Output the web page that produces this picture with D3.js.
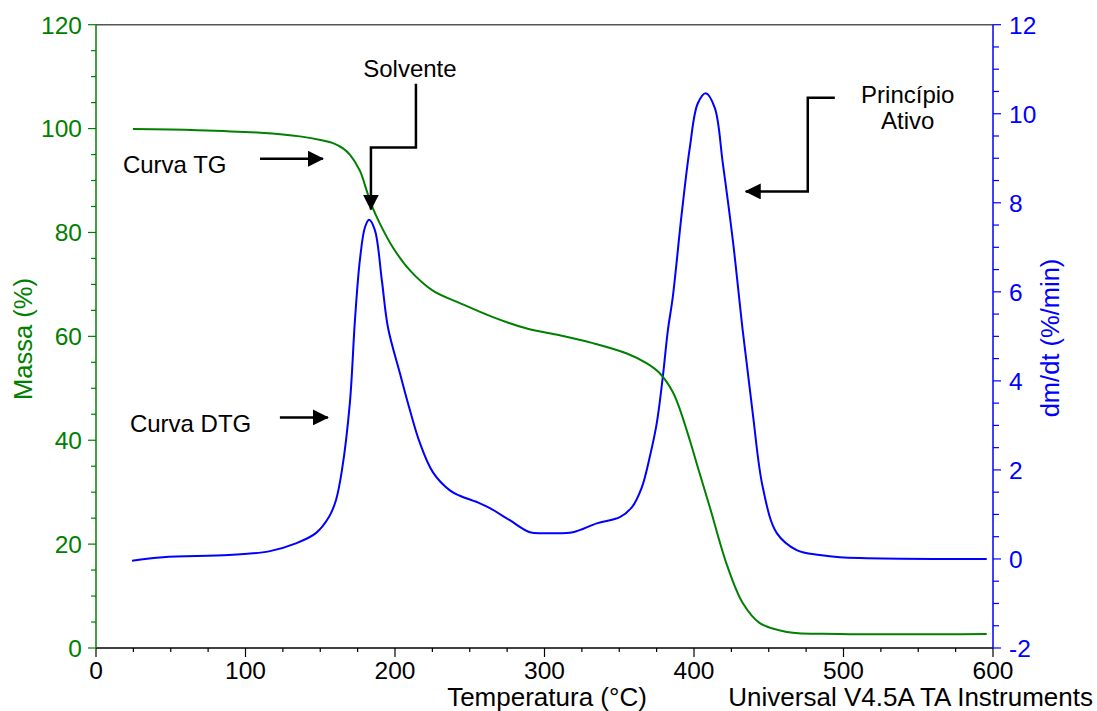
<!DOCTYPE html>
<html>
<head>
<meta charset="utf-8">
<script src="https://cdn.jsdelivr.net/npm/d3@7"></script>
<style>
  body { margin: 0; background: #fff; }
  svg text { font-family: "Liberation Sans", Arial, sans-serif; }
</style>
</head>
<body>
<div class="chart"></div>
<script>
// TG curve: temperature (°C) vs mass (%)
const tgTemp = [24.7, 67.5, 110, 136.4, 151.8, 158.5, 165.2, 169.8, 176.5, 181.0, 184.4, 189.9, 198.6, 210.0, 225.3, 243.4, 265.5, 288.2, 310.3, 332.3, 355.1, 368.5, 377.1, 385.8, 390.5, 397.2, 403.9, 410.6, 422.0, 432.6, 444.0, 462.1, 497.5, 595.8];
const tgMass = [99.9, 99.7, 99.2, 98.5, 97.7, 97.2, 96.2, 95.0, 91.9, 88.1, 85.2, 81.7, 77.1, 72.7, 68.8, 66.4, 63.7, 61.5, 60.2, 58.7, 56.7, 54.8, 52.9, 49.3, 46.0, 40.0, 33.5, 27.1, 16.0, 8.65, 4.8, 3.1, 2.7, 2.7];

// DTG curve: temperature (°C) vs dm/dt (%/min)
const dtgTemp = [24.1, 44.8, 88.9, 115.7, 133.7, 147.1, 155.8, 160.5, 164.5, 169.8, 173.2, 176.5, 179.9, 182.7, 186.6, 191.2, 195.3, 203.3, 210.0, 216.7, 225.3, 236.7, 243.4, 256.8, 263.5, 276.8, 290.2, 301.6, 319.0, 335.0, 350.4, 358.4, 365.1, 370.4, 375.1, 379.1, 382.5, 385.8, 391.8, 397.2, 402.5, 407.9, 413.9, 419.3, 426.0, 432.6, 439.3, 446.0, 455.4, 468.7, 484.1, 497.5, 595.8];
const dtgRate = [-0.04, 0.04, 0.09, 0.17, 0.35, 0.58, 0.94, 1.32, 1.99, 3.50, 5.36, 6.71, 7.45, 7.62, 7.38, 6.26, 5.20, 4.17, 3.34, 2.60, 1.95, 1.54, 1.42, 1.25, 1.14, 0.87, 0.60, 0.58, 0.60, 0.80, 0.94, 1.16, 1.61, 2.29, 3.05, 4.08, 5.13, 5.88, 7.76, 9.24, 10.23, 10.46, 10.13, 8.88, 7.15, 5.13, 3.27, 1.61, 0.58, 0.20, 0.09, 0.04, 0.0];

// ticks
const xTicks = [0, 100, 200, 300, 400, 500, 600];
const yLeftTicks = [0, 20, 40, 60, 80, 100, 120];
const yRightTicks = [-2, 0, 2, 4, 6, 8, 10, 12];

// annotations in data units (temperature, mass %)
const labels = [
  {text: "Curva TG", t: 18, m: 91.5, anchor: "start"},
  {text: "Curva DTG", t: 22.7, m: 41.5, anchor: "start"},
  {text: "Solvente", t: 210, m: 110, anchor: "middle"},
  {text: "Princípio", t: 543, m: 105, anchor: "middle"},
  {text: "Ativo", t: 543, m: 100, anchor: "middle"}
];
const arrows = [
  [[109.7, 94.2], [151.8, 94.2]],
  [[123, 44.4], [155.1, 44.4]],
  [[214, 108.65], [214, 96.35], [183.9, 96.35], [183.9, 84.4]],
  [[494.2, 105.96], [476.1, 105.96], [476.1, 87.9], [434.6, 87.9]]
];

const W = 1097, H = 711;
const margin = {top: 24.7, right: 104, bottom: 63, left: 96};
const width = W - margin.left - margin.right;
const height = H - margin.top - margin.bottom;
const green = "#008000", blue = "#0000ff";

const svg = d3.select(".chart").append("svg")
  .attr("width", W).attr("height", H);

const g = svg.append("g")
  .attr("transform", `translate(${margin.left},${margin.top})`);

const x = d3.scaleLinear().domain([0, 600]).range([0, width]);
const yL = d3.scaleLinear().domain([0, 120]).range([height, 0]);
const yR = d3.scaleLinear().domain([-2, 12]).range([height, 0]);

// top frame line
g.append("line")
  .attr("x1", 0).attr("x2", width).attr("y1", 0).attr("y2", 0)
  .attr("stroke", "#555").attr("stroke-width", 1.5);

// minor ticks
const minor = (sel, vals, fn) => sel.selectAll("line.m").data(vals).enter().append("line").each(fn);

// bottom axis
const xAxis = g.append("g").attr("transform", `translate(0,${height})`);
xAxis.append("line").attr("x1", 0).attr("x2", width).attr("stroke", "#000").attr("stroke-width", 1.5);
minor(xAxis, d3.range(0, 601, 25), function(d) {
  d3.select(this).attr("x1", x(d)).attr("x2", x(d)).attr("y1", 0)
    .attr("y2", d % 100 === 0 ? 9 : 4).attr("stroke", "#000").attr("stroke-width", 1.2);
});
xAxis.selectAll("text").data(xTicks).enter().append("text")
  .attr("x", d => x(d)).attr("y", 31)
  .attr("text-anchor", "middle").attr("font-size", 24.5).attr("fill", "#000")
  .text(d => d);

// left axis
const yAxisL = g.append("g");
yAxisL.append("line").attr("y1", 0).attr("y2", height).attr("stroke", green).attr("stroke-width", 1.5);
minor(yAxisL, d3.range(0, 121, 5), function(d) {
  d3.select(this).attr("y1", yL(d)).attr("y2", yL(d)).attr("x1", 0)
    .attr("x2", d % 20 === 0 ? -8 : -5).attr("stroke", green).attr("stroke-width", 1.2);
});
yAxisL.selectAll("text").data(yLeftTicks).enter().append("text")
  .attr("x", -14).attr("y", d => yL(d)).attr("dy", "0.36em")
  .attr("text-anchor", "end").attr("font-size", 24.5).attr("fill", green)
  .text(d => d);

// right axis
const yAxisR = g.append("g").attr("transform", `translate(${width},0)`);
yAxisR.append("line").attr("y1", 0).attr("y2", height).attr("stroke", blue).attr("stroke-width", 1.5);
minor(yAxisR, d3.range(-2, 12.01, 0.5), function(d) {
  d3.select(this).attr("y1", yR(d)).attr("y2", yR(d)).attr("x1", 0)
    .attr("x2", Math.abs(d % 2) < 1e-9 ? 8 : 6).attr("stroke", blue).attr("stroke-width", 1.2);
});
yAxisR.selectAll("text").data(yRightTicks).enter().append("text")
  .attr("x", 16).attr("y", d => yR(d)).attr("dy", "0.36em")
  .attr("text-anchor", "start").attr("font-size", 24.5).attr("fill", blue)
  .text(d => d);

// axis titles
svg.append("text").attr("transform", "translate(32,339) rotate(-90)")
  .attr("text-anchor", "middle").attr("font-size", 25.5).attr("fill", green).text("Massa (%)");
svg.append("text").attr("transform", "translate(1059,338) rotate(-90)")
  .attr("text-anchor", "middle").attr("font-size", 25.5).attr("fill", blue).text("dm/dt (%/min)");
svg.append("text").attr("x", 547).attr("y", 706)
  .attr("text-anchor", "middle").attr("font-size", 26).attr("fill", "#000").text("Temperatura (°C)");
svg.append("text").attr("x", 1093).attr("y", 706)
  .attr("text-anchor", "end").attr("font-size", 26).attr("fill", "#000").text("Universal V4.5A TA Instruments");

// curves
const tg = tgTemp.map((t, i) => ({t, v: tgMass[i]}));
const dtg = dtgTemp.map((t, i) => ({t, v: dtgRate[i]}));

g.append("path").datum(dtg)
  .attr("fill", "none").attr("stroke", blue).attr("stroke-width", 2)
  .attr("d", d3.line().x(d => x(d.t)).y(d => yR(d.v)).curve(d3.curveCatmullRom.alpha(0.5)));

g.append("path").datum(tg)
  .attr("fill", "none").attr("stroke", green).attr("stroke-width", 2)
  .attr("d", d3.line().x(d => x(d.t)).y(d => yL(d.v)).curve(d3.curveCatmullRom.alpha(0.5)));

// annotations
svg.append("defs").append("marker")
  .attr("id", "head").attr("markerUnits", "userSpaceOnUse")
  .attr("viewBox", "0 0 16 16").attr("refX", 15).attr("refY", 8)
  .attr("markerWidth", 16).attr("markerHeight", 16).attr("orient", "auto")
  .append("path").attr("d", "M0,0L16,8L0,16Z").attr("fill", "#000");

g.selectAll("path.arrow").data(arrows).enter().append("path")
  .attr("class", "arrow").attr("fill", "none").attr("stroke", "#000").attr("stroke-width", 2.5)
  .attr("marker-end", "url(#head)")
  .attr("d", d3.line().x(d => x(d[0])).y(d => yL(d[1])));

g.selectAll("text.lab").data(labels).enter().append("text")
  .attr("class", "lab").attr("x", d => x(d.t)).attr("y", d => yL(d.m))
  .attr("text-anchor", d => d.anchor).attr("font-size", 24).attr("fill", "#000")
  .text(d => d.text);
</script>
</body>
</html>
